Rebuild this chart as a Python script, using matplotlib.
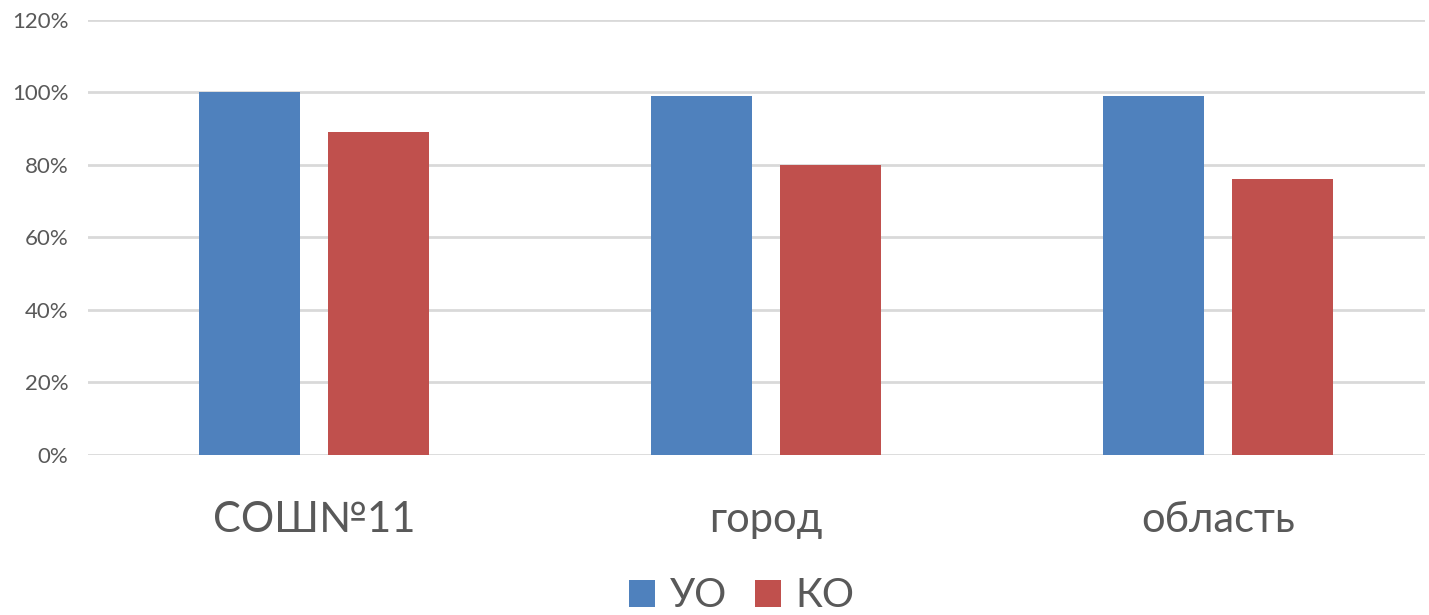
import matplotlib
matplotlib.use("Agg")
import matplotlib.pyplot as plt
import numpy as np
from matplotlib.ticker import PercentFormatter

categories = ["СОШ№11", "город", "область"]
uo = [100, 99, 99]
ko = [89, 80, 76]
series_names = ["УО", "КО"]
colors = ["#4F81BD", "#C0504D"]

plt.rcParams["font.family"] = ["Lato", "DejaVu Sans"]

fig = plt.figure(figsize=(14.29, 6.15), dpi=100)
ax = fig.add_axes([0.0616, 0.2602, 0.9354, 0.7073])

x = np.arange(len(categories))
w = 0.2235
ax.bar(x - 0.1432, uo, w, color=colors[0], label=series_names[0], zorder=3)
ax.bar(x + 0.1432, ko, w, color=colors[1], label=series_names[1], zorder=3)

ax.set_xlim(-0.5, 2.458)
ax.set_ylim(0, 120)
ax.set_yticks(range(0, 121, 20))
ax.yaxis.set_major_formatter(PercentFormatter(decimals=0))
ax.grid(axis="y", color="#D9D9D9", linewidth=2, zorder=0)
for s in ax.spines.values():
    s.set_visible(False)
ax.tick_params(axis="y", length=0, labelsize=16, labelcolor="#595959", pad=14)
ax.tick_params(axis="x", length=0, labelsize=30, labelcolor="#595959", pad=33)
ax.set_xticks(x)
ax.set_xticklabels(categories)

leg = fig.legend(loc="lower center", bbox_to_anchor=(0.519, -0.058), ncol=2, frameon=False,
                 fontsize=29, handlelength=0.65, handleheight=0.65, handletextpad=0.35,
                 columnspacing=0.7, labelcolor="#595959")

fig.savefig("out.png", dpi=100)
